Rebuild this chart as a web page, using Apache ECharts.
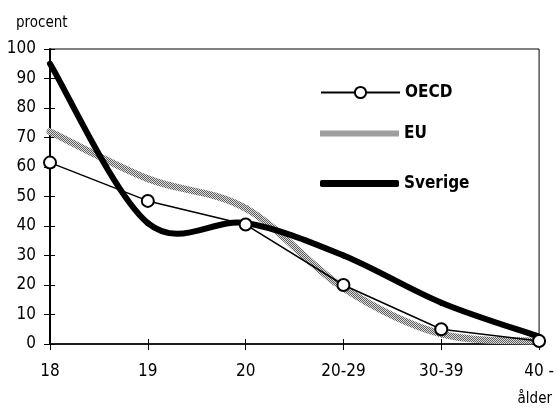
<!DOCTYPE html>
<html><head><meta charset="utf-8">
<script src="https://cdn.jsdelivr.net/npm/echarts@6/dist/echarts.min.js"></script>
<style>html,body{margin:0;padding:0;background:#fff}#c{width:557px;height:412px}</style>
</head><body><div id="c"></div>
<script>
const categories = ['18', '19', '20', '20-29', '30-39', '40 -'];
const oecd = [61.5, 48.5, 40.5, 20, 5, 1];
const eu = [72, 56, 46, 19, 3.4, 1];
const sverige = [95, 41, 41, 30, 14, 2.5];
const yTicks = [0, 10, 20, 30, 40, 50, 60, 70, 80, 90, 100];

const FONT = '"Liberation Sans Narrow", "DejaVu Sans Condensed", sans-serif';

const pc = document.createElement('canvas');
pc.width = 2; pc.height = 2;
const g = pc.getContext('2d');
g.fillStyle = '#dcdcdc'; g.fillRect(0, 0, 2, 2);
g.fillStyle = '#606060'; g.fillRect(0, 0, 1, 1); g.fillRect(1, 1, 1, 1);
const pattern = { image: pc, repeat: 'repeat' };

// Excel-style smoothed line (Catmull-Rom Bezier), positioned through the axes via api.coord
function smoothRenderer(values, stroke, width) {
  return function (params, api) {
    if (params.dataIndex !== 0) return null;
    const pts = values.map((v, i) => api.coord([i, v]));
    const children = [];
    for (let i = 0; i < pts.length - 1; i++) {
      const p0 = pts[Math.max(i - 1, 0)], p1 = pts[i], p2 = pts[i + 1], p3 = pts[Math.min(i + 2, pts.length - 1)];
      children.push({
        type: 'bezierCurve',
        shape: {
          x1: p1[0], y1: p1[1], x2: p2[0], y2: p2[1],
          cpx1: p1[0] + (p2[0] - p0[0]) / 6, cpy1: p1[1] + (p2[1] - p0[1]) / 6,
          cpx2: p2[0] - (p3[0] - p1[0]) / 6, cpy2: p2[1] - (p3[1] - p1[1]) / 6
        },
        style: { fill: 'none', stroke: stroke, lineWidth: width, lineCap: 'round', lineJoin: 'round' }
      });
    }
    return { type: 'group', children: children };
  };
}

const chart = echarts.init(document.getElementById('c'), null, { renderer: 'canvas' });
const legendBase = {
  left: 320, orient: 'vertical', itemWidth: 79, padding: 0,
  textStyle: { fontFamily: FONT, fontSize: 17, fontWeight: 'bold', color: '#000' },
  selectedMode: false
};
chart.setOption({
  animation: false,
  title: [
    { text: 'procent', left: 11, top: 11, textStyle: { fontFamily: FONT, fontSize: 15, fontWeight: 'normal', color: '#000' } },
    { text: 'ålder', right: 0, top: 387, textStyle: { fontFamily: FONT, fontSize: 15, fontWeight: 'normal', color: '#000' } }
  ],
  legend: [
    Object.assign({}, legendBase, { top: 84, itemHeight: 14, data: ['OECD'] }),
    Object.assign({}, legendBase, { top: 125, itemHeight: 6,
      data: [{ name: 'EU', icon: 'rect', itemStyle: { color: pattern, borderWidth: 0 } }] }),
    Object.assign({}, legendBase, { top: 175, itemHeight: 7,
      data: [{ name: 'Sverige', icon: 'roundRect', itemStyle: { color: '#000', borderWidth: 0 } }] })
  ],
  grid: { left: 50, right: 16, top: 49, bottom: 68, show: true, borderColor: '#000', borderWidth: 1, backgroundColor: 'transparent' },
  xAxis: [
    { type: 'category', data: categories, boundaryGap: false,
      axisLine: { lineStyle: { color: '#000', width: 1.5 } },
      axisTick: { show: true, length: 6, lineStyle: { color: '#000', width: 1 } },
      axisLabel: { fontFamily: FONT, fontSize: 17, color: '#000', margin: 19 },
      splitLine: { show: false } },
    { type: 'category', data: categories, boundaryGap: false, position: 'bottom',
      axisLine: { show: false },
      axisTick: { show: true, inside: true, length: 5, lineStyle: { color: '#000', width: 1 } },
      axisLabel: { show: false }, splitLine: { show: false } }
  ],
  yAxis: [
    { type: 'value', min: yTicks[0], max: yTicks[yTicks.length - 1], interval: 10,
      axisLine: { show: true, lineStyle: { color: '#000', width: 2 } },
      axisTick: { show: true, length: 6, lineStyle: { color: '#000', width: 1 } },
      axisLabel: { fontFamily: FONT, fontSize: 17, color: '#000', margin: 14 },
      splitLine: { show: false } },
    { type: 'value', min: yTicks[0], max: yTicks[yTicks.length - 1], interval: 10, position: 'left',
      axisLine: { show: false },
      axisTick: { show: true, inside: true, length: 5, lineStyle: { color: '#000', width: 1 } },
      axisLabel: { show: false }, splitLine: { show: false } }
  ],
  series: [
    { name: 'EU', type: 'custom', z: 2, encode: { x: 0, y: 1 },
      data: eu.map((v, i) => [i, v]),
      itemStyle: { color: pattern },
      renderItem: smoothRenderer(eu, pattern, 7) },
    { name: 'Sverige', type: 'custom', z: 3, encode: { x: 0, y: 1 },
      data: sverige.map((v, i) => [i, v]),
      itemStyle: { color: '#000' },
      renderItem: smoothRenderer(sverige, '#000', 6) },
    { name: 'OECD', type: 'line', data: oecd, smooth: false, symbol: 'circle', symbolSize: 12, z: 4,
      lineStyle: { color: '#000', width: 1.5 },
      itemStyle: { color: '#fff', borderColor: '#000', borderWidth: 2 } }
  ]
});
</script></body></html>
